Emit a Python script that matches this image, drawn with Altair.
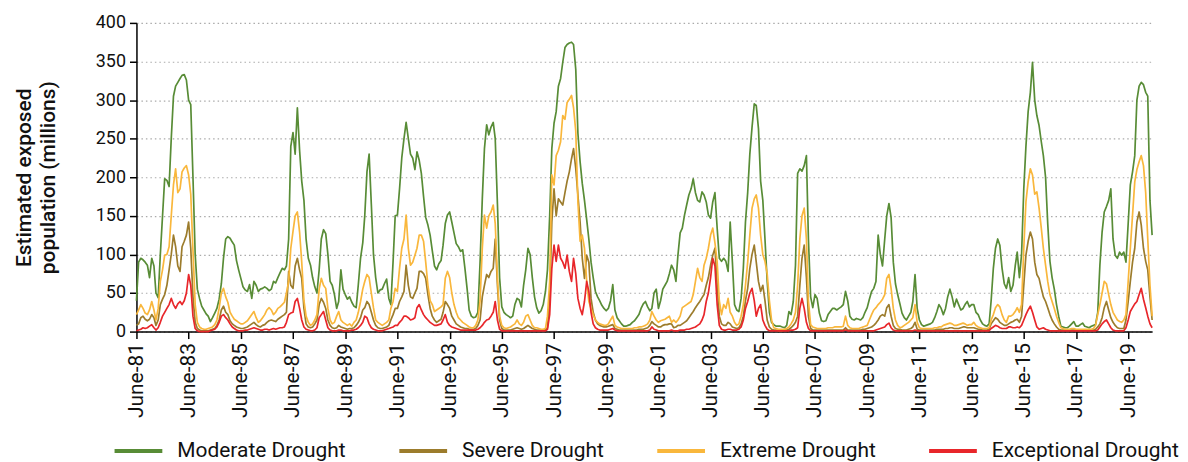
import altair as alt
import pandas as pd

# Monthly values, June 1981 .. May 2020 (one row of 12 = June..May)
moderate = [
    40, 90, 95, 93, 90, 86, 70, 95, 85, 50, 44, 100,
    150, 198, 196, 188, 250, 305, 318, 323, 328, 332, 333, 326,
    300, 294, 200, 100, 55, 43, 33, 28, 23, 20, 13, 18,
    24, 30, 42, 62, 95, 120, 123, 121, 116, 112, 92, 80,
    69, 58, 54, 52, 61, 43, 65, 60, 52, 55, 56, 58,
    56, 53, 55, 65, 63, 70, 76, 82, 80, 85, 120, 240,
    258, 230, 290, 235, 195, 170, 120, 95, 86, 70, 58, 50,
    80, 120, 132, 127, 100, 65, 60, 48, 30, 39, 80, 55,
    48, 42, 45, 38, 33, 31, 61, 95, 115, 150, 207, 230,
    165, 100, 70, 50, 54, 55, 62, 68, 43, 35, 90, 150,
    151, 185, 225, 250, 271, 250, 230, 225, 210, 233, 222, 205,
    175, 148, 138, 125, 105, 85, 80, 88, 92, 112, 140, 151,
    155, 142, 128, 114, 110, 104, 106, 82, 55, 28, 20, 18,
    19, 25, 90, 172, 237, 268, 255, 265, 271, 250, 165, 70,
    32, 25, 22, 20, 18, 20, 35, 43, 41, 32, 60, 80,
    108, 100, 70, 45, 31, 24, 27, 35, 52, 80, 150, 237,
    270, 285, 318, 328, 349, 368, 372, 374, 375, 372, 340, 257,
    220, 192, 170, 145, 120, 90, 70, 52, 45, 40, 34, 30,
    27, 30, 40, 61, 28, 18, 14, 10, 7, 7, 8, 9,
    12, 14, 18, 22, 30, 36, 39, 32, 27, 30, 50, 55,
    30, 40, 55, 60, 65, 75, 86, 80, 65, 99, 128, 134,
    151, 164, 177, 185, 198, 180, 170, 168, 181, 177, 168, 151,
    147, 168, 180, 134, 95, 91, 95, 91, 78, 142, 90, 35,
    28, 26, 43, 82, 142, 180, 230, 265, 295, 293, 263, 195,
    170, 120, 65, 25, 12, 9, 7, 7, 7, 6, 5, 8,
    26, 22, 39, 86, 205, 211, 208, 215, 228, 120, 45, 31,
    48, 43, 24, 14, 13, 14, 22, 26, 30, 30, 28, 30,
    32, 35, 52, 40, 20, 16, 15, 17, 16, 15, 18, 25,
    31, 42, 52, 56, 65, 125, 100, 85, 120, 150, 166, 148,
    90, 62, 48, 36, 24, 18, 15, 20, 25, 39, 74, 30,
    15, 9, 7, 8, 9, 10, 12, 18, 26, 35, 30, 22,
    30, 45, 55, 45, 32, 42, 35, 28, 30, 35, 39, 32,
    35, 35, 25, 22, 15, 10, 8, 7, 10, 40, 82, 108,
    120, 112, 82, 62, 56, 70, 52, 60, 85, 103, 70, 100,
    185, 240, 285, 310, 349, 300, 280, 267, 246, 228, 200, 140,
    91, 70, 55, 35, 20, 7, 6, 5, 5, 7, 10, 13,
    7, 7, 9, 11, 7, 6, 5, 7, 8, 9, 25, 86,
    129, 155, 162, 170, 185, 120, 99, 95, 103, 99, 103, 90,
    140, 190, 207, 228, 300, 318, 323, 320, 310, 305, 170, 125,
]

severe = [
    8, 10, 18, 20, 16, 14, 16, 22, 18, 8, 15, 35,
    42, 48, 60, 80, 100, 125, 110, 85, 78, 110, 117, 125,
    142, 108, 45, 12, 4, 2, 1, 1, 1, 1, 2, 3,
    4, 8, 15, 28, 33, 25, 22, 14, 10, 8, 6, 5,
    4, 4, 5, 6, 8, 10, 12, 9, 7, 6, 8, 9,
    12, 14, 15, 14, 13, 16, 18, 20, 22, 25, 78, 60,
    56, 85, 95, 80, 69, 30, 10, 6, 5, 6, 10, 15,
    35, 43, 38, 30, 15, 8, 5, 4, 5, 8, 6, 5,
    4, 3, 4, 4, 5, 8, 12, 18, 28, 31, 39, 35,
    25, 15, 8, 5, 4, 4, 5, 6, 8, 15, 22, 30,
    30, 39, 45, 52, 86, 60, 45, 43, 50, 56, 78, 78,
    75, 69, 48, 30, 20, 15, 12, 14, 16, 25, 39, 35,
    30, 20, 15, 10, 8, 6, 5, 4, 4, 3, 3, 3,
    4, 8, 15, 45, 60, 74, 70, 78, 82, 120, 60, 15,
    4, 2, 2, 2, 2, 3, 4, 5, 4, 3, 4, 6,
    8, 6, 4, 3, 2, 2, 2, 2, 2, 5, 43, 142,
    185, 150, 172, 168, 164, 180, 195, 207, 224, 237, 211, 177,
    142, 95, 69, 99, 90, 43, 25, 15, 10, 8, 7, 6,
    6, 7, 8, 9, 4, 3, 2, 2, 2, 2, 2, 2,
    2, 2, 2, 3, 3, 3, 4, 5, 8, 13, 10, 8,
    6, 6, 8, 9, 9, 10, 10, 5, 6, 8, 8, 10,
    12, 14, 18, 22, 26, 31, 35, 39, 44, 48, 60, 70,
    86, 99, 108, 60, 20, 10, 8, 8, 12, 10, 6, 5,
    4, 5, 10, 20, 40, 56, 82, 100, 112, 90, 65, 52,
    60, 40, 15, 6, 3, 2, 2, 1, 1, 1, 2, 2,
    3, 5, 8, 12, 20, 60, 95, 112, 70, 20, 4, 2,
    2, 2, 2, 2, 2, 2, 2, 2, 2, 2, 2, 2,
    2, 2, 5, 2, 2, 2, 2, 2, 2, 2, 3, 3,
    4, 5, 6, 8, 11, 15, 20, 22, 20, 31, 35, 20,
    8, 4, 3, 3, 2, 2, 2, 3, 4, 6, 12, 3,
    2, 2, 2, 2, 2, 2, 2, 2, 3, 3, 3, 3,
    4, 4, 5, 5, 4, 4, 4, 5, 6, 6, 5, 5,
    5, 5, 4, 3, 3, 2, 2, 2, 3, 10, 14, 18,
    16, 12, 10, 8, 8, 10, 12, 13, 15, 16, 12, 20,
    60, 99, 117, 129, 120, 90, 74, 69, 56, 45, 39, 31,
    22, 15, 10, 6, 3, 2, 2, 2, 2, 2, 2, 2,
    2, 2, 2, 2, 2, 2, 2, 2, 2, 3, 6, 10,
    18, 31, 39, 28, 18, 12, 8, 5, 4, 4, 4, 15,
    39, 65, 90, 108, 142, 155, 138, 108, 91, 80, 45, 15,
]

extreme = [
    22, 28, 35, 30, 24, 22, 28, 39, 28, 15, 30, 65,
    80, 99, 100, 110, 150, 190, 211, 180, 185, 207, 212, 215,
    203, 178, 105, 35, 12, 6, 4, 3, 3, 4, 5, 6,
    9, 15, 30, 50, 56, 45, 38, 25, 20, 16, 14, 12,
    10, 10, 12, 14, 18, 22, 26, 18, 12, 14, 18, 22,
    28, 31, 28, 22, 25, 30, 32, 35, 38, 50, 65, 108,
    130, 150, 155, 129, 90, 40, 20, 12, 8, 10, 15, 22,
    55, 69, 60, 56, 30, 15, 10, 12, 20, 26, 15, 12,
    10, 8, 10, 7, 12, 15, 25, 39, 55, 65, 74, 70,
    50, 31, 15, 12, 10, 8, 10, 12, 15, 30, 39, 56,
    52, 82, 108, 120, 151, 108, 86, 90, 99, 108, 125, 125,
    117, 90, 60, 40, 35, 26, 28, 30, 32, 35, 69, 78,
    70, 50, 35, 25, 18, 15, 12, 10, 8, 6, 5, 5,
    8, 15, 40, 108, 151, 134, 150, 155, 164, 140, 70, 20,
    8, 5, 4, 5, 6, 8, 10, 15, 10, 8, 12, 20,
    22, 15, 8, 5, 5, 4, 3, 3, 4, 20, 65, 203,
    190, 228, 235, 246, 280, 275, 297, 301, 306, 290, 260, 168,
    117, 125, 108, 65, 39, 30, 22, 15, 12, 10, 9, 8,
    8, 10, 15, 20, 8, 6, 5, 4, 4, 4, 4, 4,
    4, 5, 5, 6, 6, 7, 8, 10, 15, 26, 20, 15,
    12, 14, 15, 16, 18, 20, 12, 15, 12, 15, 20, 31,
    33, 35, 37, 39, 48, 65, 82, 70, 65, 86, 95, 108,
    125, 134, 115, 90, 40, 22, 35, 30, 43, 25, 20, 12,
    8, 10, 20, 35, 60, 90, 125, 160, 172, 177, 160, 125,
    100, 91, 75, 40, 15, 5, 4, 3, 3, 3, 3, 4,
    6, 10, 15, 25, 60, 120, 150, 160, 120, 40, 9, 6,
    5, 4, 4, 4, 4, 4, 5, 5, 5, 6, 6, 6,
    6, 7, 20, 8, 5, 4, 4, 4, 4, 5, 6, 7,
    8, 15, 22, 28, 31, 35, 38, 42, 48, 69, 74, 56,
    30, 15, 8, 5, 6, 8, 10, 12, 15, 18, 35, 12,
    5, 4, 4, 4, 4, 4, 4, 5, 5, 6, 6, 8,
    9, 10, 11, 10, 8, 8, 9, 10, 11, 10, 8, 9,
    9, 12, 8, 6, 5, 4, 4, 4, 5, 15, 22, 31,
    35, 32, 22, 15, 12, 20, 20, 22, 26, 31, 25, 35,
    108, 168, 194, 211, 203, 178, 181, 160, 134, 108, 86, 65,
    48, 39, 30, 20, 12, 5, 4, 3, 3, 3, 4, 4,
    3, 3, 3, 3, 3, 3, 3, 3, 4, 8, 22, 35,
    50, 65, 62, 48, 35, 25, 20, 15, 13, 12, 15, 22,
    65, 108, 151, 194, 210, 220, 228, 215, 180, 120, 60, 20,
]

exceptional = [
    1, 2, 3, 5, 4, 5, 7, 9, 5, 2, 5, 12,
    20, 25, 30, 35, 43, 35, 30, 36, 39, 35, 40, 50,
    74, 60, 20, 4, 1, 0, 0, 0, 0, 0, 1, 2,
    3, 6, 12, 20, 22, 18, 15, 10, 6, 4, 2, 1,
    1, 1, 2, 2, 3, 4, 5, 4, 3, 2, 2, 3,
    3, 2, 3, 4, 3, 4, 5, 5, 6, 12, 22, 24,
    25, 39, 43, 30, 15, 6, 3, 2, 1, 1, 2, 5,
    18, 22, 26, 15, 5, 2, 1, 1, 1, 2, 2, 1,
    1, 1, 1, 2, 2, 3, 5, 8, 12, 20, 18, 10,
    5, 3, 2, 1, 1, 1, 2, 3, 4, 5, 6, 8,
    8, 12, 15, 20, 20, 18, 15, 16, 18, 31, 35, 28,
    22, 18, 15, 12, 10, 8, 8, 9, 10, 15, 22, 12,
    8, 6, 5, 4, 3, 2, 2, 2, 2, 2, 2, 2,
    2, 3, 5, 8, 12, 15, 16, 20, 25, 39, 15, 3,
    1, 1, 1, 1, 1, 1, 1, 1, 1, 1, 1, 1,
    1, 1, 1, 1, 1, 1, 1, 1, 1, 3, 22, 82,
    112, 91, 112, 95, 90, 82, 99, 78, 65, 95, 75, 43,
    30, 22, 39, 65, 52, 25, 10, 5, 3, 2, 2, 2,
    2, 2, 3, 4, 2, 1, 1, 1, 1, 1, 1, 1,
    1, 1, 1, 1, 1, 1, 1, 1, 2, 6, 3, 2,
    1, 1, 1, 1, 1, 1, 2, 1, 1, 1, 2, 2,
    2, 3, 3, 4, 5, 6, 8, 10, 15, 22, 39, 50,
    70, 95, 85, 35, 8, 3, 2, 2, 3, 3, 2, 2,
    2, 3, 6, 15, 30, 39, 50, 56, 40, 20, 30, 35,
    15, 8, 3, 1, 1, 1, 1, 1, 1, 1, 1, 1,
    1, 2, 2, 3, 5, 30, 43, 30, 12, 4, 1, 1,
    1, 1, 1, 1, 1, 1, 1, 1, 1, 1, 1, 1,
    1, 1, 2, 1, 1, 1, 1, 1, 1, 1, 1, 1,
    1, 1, 1, 1, 2, 3, 4, 5, 6, 9, 11, 5,
    2, 1, 1, 1, 1, 1, 1, 1, 1, 1, 2, 1,
    1, 1, 1, 1, 1, 1, 1, 1, 1, 1, 1, 1,
    1, 1, 1, 1, 1, 1, 1, 1, 1, 1, 1, 1,
    1, 1, 1, 1, 1, 1, 1, 1, 1, 4, 6, 8,
    7, 5, 4, 4, 4, 6, 6, 5, 5, 6, 5, 8,
    15, 22, 28, 33, 25, 15, 6, 3, 4, 5, 3, 2,
    1, 1, 1, 1, 1, 1, 1, 1, 1, 1, 1, 1,
    1, 1, 1, 1, 1, 1, 1, 1, 1, 1, 2, 6,
    10, 13, 15, 10, 5, 2, 1, 1, 1, 1, 1, 5,
    15, 26, 31, 36, 39, 48, 56, 42, 31, 20, 10, 5,
]

series_names = ["Moderate Drought", "Severe Drought", "Extreme Drought", "Exceptional Drought"]
series_colors = ["#588c36", "#9c7c2c", "#f9b73c", "#e8262a"]
tick_years = list(range(1981, 2020, 2))
y_ticks = [0, 50, 100, 150, 200, 250, 300, 350, 400]

n = len(moderate)
dates = pd.date_range("1981-06-01", periods=n, freq="MS")
rows = []
for name, vals in zip(series_names, [moderate, severe, extreme, exceptional]):
    for d, v in zip(dates, vals):
        rows.append({"date": d.strftime("%Y-%m-%dT00:00:00"), "value": v, "series": name})
df = pd.DataFrame(rows)

FONT = "Roboto"

chart = alt.Chart(df).mark_line(strokeWidth=1.7, strokeJoin="round").encode(
    x=alt.X(
        "date:T",
        scale=alt.Scale(domain=[alt.DateTime(year=1981, month=6, date=1),
                                alt.DateTime(year=2020, month=5, date=1)]),
        axis=alt.Axis(
            values=[alt.DateTime(year=y, month=6, date=1) for y in tick_years],
            format="%B-%y", labelAngle=270, title=None, grid=False,
            labelFontSize=21, labelFont=FONT, labelColor="#111",
            tickColor="#000", tickSize=7, tickWidth=1.5,
            domainColor="#000", domainWidth=1.5, labelPadding=4,
        ),
    ),
    y=alt.Y(
        "value:Q",
        scale=alt.Scale(domain=[0, 400], nice=False),
        axis=alt.Axis(
            values=y_ticks, title=["Estimated exposed", "population (millions)"],
            titleFontSize=21, titleFont=FONT, titleFontWeight=500, titleColor="#111",
            titlePadding=37, titleLineHeight=24,
            labelFontSize=18, labelFont=FONT, labelColor="#111", labelPadding=4,
            tickColor="#000", tickSize=7, tickWidth=1.5,
            domainColor="#000", domainWidth=1.5,
            grid=True, gridColor="#aaaaaa", gridDash=[1.5, 3], gridWidth=1.2,
        ),
    ),
    color=alt.Color(
        "series:N",
        scale=alt.Scale(domain=series_names, range=series_colors),
        sort=series_names,
        legend=alt.Legend(
            title=None, orient="none", direction="horizontal",
            legendX=-24, legendY=404,
            symbolType="stroke", symbolSize=2300, symbolStrokeWidth=4,
            labelFontSize=21, labelFont=FONT, labelColor="#111",
            labelOffset=13, columnPadding=45, labelLimit=400,
        ),
    ),
).properties(
    width=1020, height=310,
    autosize=alt.AutoSizeParams(type="none"),
    padding={"left": 129, "top": 14, "right": 28, "bottom": 130},
).configure_view(stroke=None)

chart.save("out.html", embed_options={"renderer": "svg", "actions": False})
